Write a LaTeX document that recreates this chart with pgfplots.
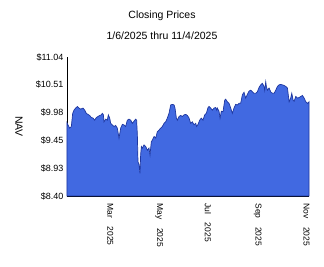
\documentclass[border=0pt]{standalone}
\usepackage{pgfplots}
\pgfplotsset{compat=1.18}
\usepackage{fontspec}
\setmainfont{Liberation Sans}
\definecolor{fillblue}{RGB}{65,105,225}
\definecolor{lineblue}{RGB}{30,55,160}
\begin{document}
\begin{tikzpicture}
\path[use as bounding box] (-67pt,-71pt) rectangle (257pt,196pt);
\begin{axis}[
  scale only axis, width=242pt, height=139pt,
  at={(0pt,0pt)}, anchor=south west,
  axis x line*=bottom, axis y line*=left,
  axis line style={black, line width=0.8pt},
  xmin=5, xmax=307, ymin=8.40, ymax=11.04,
  major tick length=0pt,
  xtick={59,120,181,243,304},
  xticklabels={Mar\hspace{1em}2025,May\hspace{1em}2025,Jul\hspace{1em}2025,Sep\hspace{1em}2025,Nov\hspace{1em}2025},
  xticklabel style={rotate=-90, anchor=west, font=\fontsize{8.5}{10}\selectfont, xshift=4pt},
  ytick={8.40,8.928,9.456,9.984,10.512,11.04},
  yticklabels={\mbox{\$8.40},\mbox{\$8.93},\mbox{\$9.45},\mbox{\$9.98},\mbox{\$10.51},\mbox{\$11.04}},
  yticklabel style={font=\fontsize{9}{10}\selectfont},
  clip=false,
]
\addplot[fill=fillblue, draw=lineblue, line width=0.7pt] coordinates {
(5,9.79) (6.2,9.75) (8.3,9.69) (10.4,9.72) (12.1,9.97) (13.7,10.03) (15.8,10.07) (17.9,10.10)
(20.0,10.07) (22.1,10.05) (25.0,10.07) (27.1,10.03) (29.1,9.97) (31.2,9.95) (33.3,9.93) (35.4,9.89)
(37.5,9.88) (39.6,9.84) (41.6,9.89) (43.7,9.91) (45.8,9.93) (47.8,9.94) (49.1,9.97) (50.3,9.95)
(51.2,9.81) (53.3,9.86) (55.3,9.84) (56.6,9.94) (58.3,9.88) (59.5,9.78) (61.6,9.75) (63.7,9.72)
(65.7,9.74) (67.8,9.69) (69.9,9.50) (72.0,9.69) (74.1,9.76)
(76.1,9.75) (78.2,9.72) (80.3,9.84) (82.4,9.86) (84.5,9.84) (86.5,9.78) (88.6,9.82) (90.7,9.86)
(91.9,9.84) (92.8,9.56) (93.6,9.05) (94.9,8.99) (96.1,8.83) (96.9,9.18) (97.8,9.34) (99.0,9.31)
(101.1,9.37) (103.2,9.34) (105.3,9.27) (107.3,9.31) (108.6,9.18) (110.2,9.43) (111.5,9.46) (113.6,9.53)
(115.7,9.50) (117.7,9.62) (119.8,9.65) (121.9,9.69) (124.0,9.72) (126.1,9.78) (128.2,9.81) (130.2,9.88)
(132.3,9.97) (134.4,10.13) (136.5,10.14) (138.6,10.13) (139.8,10.07) (141.5,9.88) (142.7,9.84) (144.8,9.91)
(146.9,9.93) (149.0,9.91) (151.0,9.94)
(153.1,9.95) (155.2,9.93) (157.3,9.88) (159.3,9.78) (161.4,9.81) (163.5,9.75) (165.6,9.78) (166.8,9.72)
(168.5,9.76) (170.6,9.84) (172.6,9.88) (174.7,9.84) (176.8,9.94) (178.9,9.97) (181.0,10.08) (182.2,10.10)
(184.3,10.07) (186.4,10.03) (188.5,10.07) (190.6,10.08) (191.8,10.03) (192.6,10.07) (194.7,10.01) (196.0,9.88)
(197.6,10.01) (199.7,10.00) (201.8,10.22) (203.0,10.24) (205.1,10.19) (207.2,10.16) (209.3,10.07) (211.3,9.97)
(213.4,10.07) (215.5,10.14) (217.6,10.13) (219.7,10.16) (221.7,10.16) (223.8,10.32) (225.9,10.37) (228.0,10.26)
(230.1,10.33) (232.1,10.39) (234.2,10.41) (236.3,10.38) (238.4,10.35) (240.5,10.35) (242.6,10.38) (244.6,10.46)
(246.7,10.51) (248.8,10.54) (250.9,10.48) (251.7,10.41) (253.0,10.57) (253.8,10.48) (255.1,10.41) (257.2,10.45)
(259.2,10.38) (261.3,10.35) (263.4,10.35) (265.5,10.41) (267.6,10.48) (269.6,10.51) (271.7,10.52) (273.8,10.51)
(275.9,10.50) (278.0,10.48) (280.1,10.45) (282.2,10.19) (284.2,10.26) (285.5,10.35) (287.2,10.22) (288.4,10.20)
(290.5,10.29) (292.6,10.26) (294.6,10.27) (296.7,10.29) (298.8,10.31) (300.9,10.26) (303.0,10.19) (305.1,10.16)
(307.0,10.19)
} \closedcycle;
\end{axis}
\node[font=\fontsize{10.5}{12}\selectfont] at (95pt,180.3pt) {Closing Prices};
\node[font=\fontsize{10.5}{12}\selectfont] at (95pt,160.3pt) {1/6/2025 thru 11/4/2025};
\node[font=\fontsize{10.5}{12}\selectfont, rotate=-90] at (-48pt,69.5pt) {NAV};
\end{tikzpicture}
\end{document}
